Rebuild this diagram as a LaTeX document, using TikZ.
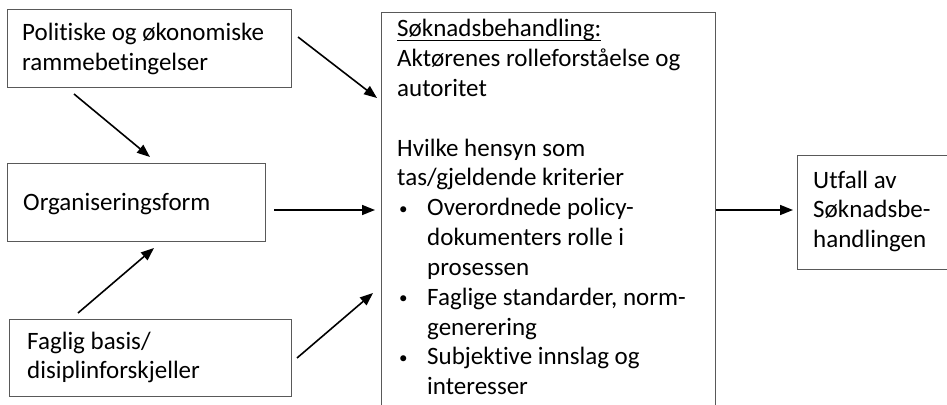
\documentclass[tikz,border=0pt]{standalone}
\usepackage{fontspec}
\setmainfont{Carlito}[Ligatures=NoCommon]
\usetikzlibrary{arrows.meta}
\newcommand\myul[1]{\leavevmode\setbox0\hbox{#1}\rlap{\rule[-4.5pt]{\wd0}{1.3pt}}\box0}
\newcommand\mybul{\makebox[30pt][l]{\hspace{2pt}\raisebox{1.5pt}{\fontsize{17}{17}\selectfont\textbullet}}}
\tikzset{
  box/.style={draw=black!65, line width=1pt, rectangle, inner sep=0pt, anchor=north west},
  txt/.style={anchor=base west, inner sep=0pt, font=\fontsize{25}{29.8}\selectfont},
  arr/.style={line width=1.6pt, -{Triangle[length=13pt,width=10pt]}}
}
\begin{document}
\begin{tikzpicture}[x=1pt,y=-1pt]
\useasboundingbox (0,0) rectangle (947,404);
\fill[white] (0,0) rectangle (947,404);
% boxes
\node[box, minimum width=284pt, minimum height=78pt] (b1) at (7,9) {};
\node[box, minimum width=258pt, minimum height=78pt] (b2) at (7,163) {};
\node[box, minimum width=282pt, minimum height=77pt] (b3) at (9,319) {};
\node[box, minimum width=334pt, minimum height=420pt] (c) at (381,12) {};
\node[box, minimum width=155pt, minimum height=114pt] (u) at (797,155) {};
% texts
\node[txt] (t1) at (22,41) {\parbox[t]{280pt}{Politiske og økonomiske\\rammebetingelser}};
\node[txt] (t2) at (23,210) {Organiseringsform};
\node[txt] (t3) at (27,349) {\parbox[t]{280pt}{Faglig basis/\\disiplinforskjeller}};
\node[txt] (tc) at (397,37) {\parbox[t]{320pt}{\myul{Søknadsbehandling:}\\
Aktørenes rolleforståelse og\\
autoritet\\
\mbox{}\\
Hvilke hensyn som\\
tas/gjeldende kriterier\\
\mybul Overordnede policy-\\
\hspace*{30pt}dokumenters rolle i\\
\hspace*{30pt}prosessen\\
\mybul Faglige standarder, norm-\\
\hspace*{30pt}generering\\
\mybul Subjektive innslag og\\
\hspace*{30pt}interesser}};
\node[txt] (tu) at (813,188) {\parbox[t]{140pt}{Utfall av\\Søknadsbe-\\handlingen}};
% arrow end points
\coordinate (a1s) at (298,37);  \coordinate (a1e) at (377,98);
\coordinate (a2s) at (74,94);   \coordinate (a2e) at (150,157);
\coordinate (a3s) at (274,210); \coordinate (a3e) at (375,210);
\coordinate (a4s) at (78,313);  \coordinate (a4e) at (154,248);
\coordinate (a5s) at (297,358); \coordinate (a5e) at (373,293);
\coordinate (a6s) at (716,210); \coordinate (a6e) at (793,210);
\draw[arr] (a1s) -- (a1e);
\draw[arr] (a2s) -- (a2e);
\draw[arr] (a3s) -- (a3e);
\draw[arr] (a4s) -- (a4e);
\draw[arr] (a5s) -- (a5e);
\draw[arr] (a6s) -- (a6e);
\end{tikzpicture}
\end{document}
